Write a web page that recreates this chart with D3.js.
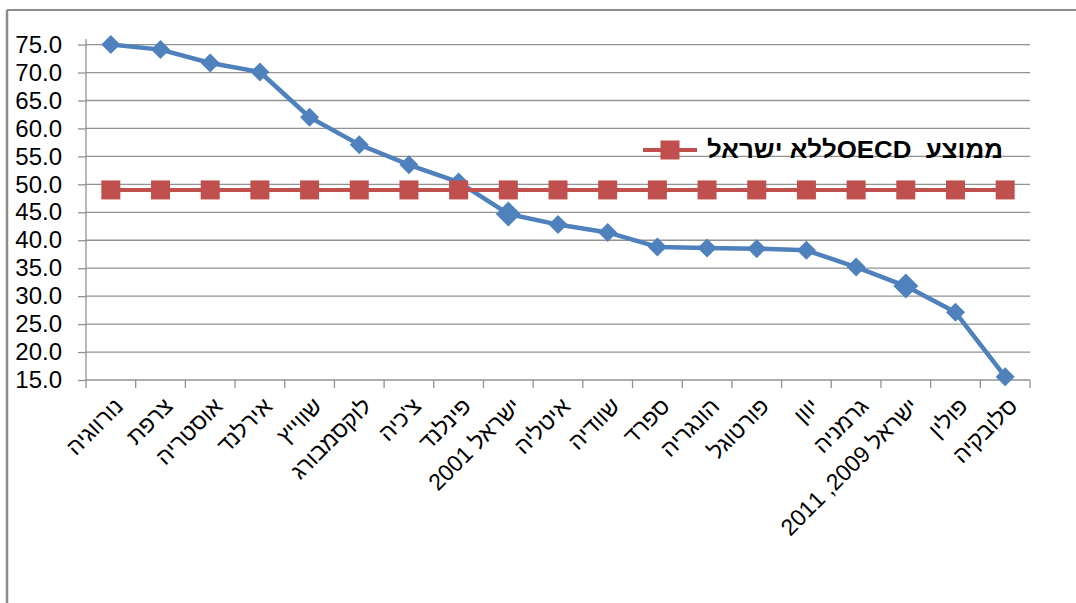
<!DOCTYPE html>
<html>
<head>
<meta charset="utf-8">
<script src="https://cdn.jsdelivr.net/npm/d3@7"></script>
<style>
  html, body { margin: 0; padding: 0; background: #fff; }
  svg { display: block; font-family: "Liberation Sans", Arial, sans-serif; }
</style>
</head>
<body>
<svg id="chart" width="1076" height="603"></svg>
<script>
// ---- data ----
const categories = ["נורווגיה", "צרפת", "אוסטריה", "אירלנד", "שווייץ", "לוקסמבורג", "צ'כיה", "פינלנד", "ישראל 2001", "איטליה", "שוודיה", "ספרד", "הונגריה", "פורטוגל", "יוון", "גרמניה", "ישראל 2009, 2011", "פולין", "סלובקיה"];
const values = [75.0, 74.1, 71.7, 70.1, 62.0, 57.1, 53.5, 50.4, 44.7, 42.8, 41.4, 38.8, 38.6, 38.5, 38.2, 35.2, 31.8, 27.1, 15.6];
const oecdAvg = [49.0, 49.0, 49.0, 49.0, 49.0, 49.0, 49.0, 49.0, 49.0, 49.0, 49.0, 49.0, 49.0, 49.0, 49.0, 49.0, 49.0, 49.0, 49.0];
const highlighted = ["ישראל 2001", "ישראל 2009, 2011"];
const yTicks = [15, 20, 25, 30, 35, 40, 45, 50, 55, 60, 65, 70, 75];
const legendLabel = "ממוצע  OECDללא ישראל";

// ---- layout ----
const svg = d3.select("#chart");
const pLeft = 86, pRight = 1030, pTop = 39, pBottom = 380;
const blue = "#4F81BD", red = "#C0504D", grid = "#929292";

const x = d3.scaleBand().domain(categories).range([pLeft, pRight]).padding(0);
const y = d3.scaleLinear().domain([15, 76]).range([pBottom, pTop]);
const cx = d => x(d) + x.bandwidth() / 2;

// chart border (top & left visible)
svg.append("line").attr("x1", 7).attr("x2", 1076).attr("y1", 10).attr("y2", 10)
  .attr("stroke", "#8C8C8C").attr("stroke-width", 2);
svg.append("line").attr("x1", 7).attr("x2", 7).attr("y1", 10).attr("y2", 603)
  .attr("stroke", "#8C8C8C").attr("stroke-width", 2.5);

// gridlines
svg.append("g").selectAll("line").data(yTicks.filter(t => t > 15)).join("line")
  .attr("x1", pLeft).attr("x2", pRight)
  .attr("y1", d => y(d)).attr("y2", d => y(d))
  .attr("stroke", grid).attr("stroke-width", 1.3);

// y axis
const yAxis = svg.append("g").attr("transform", `translate(${pLeft},0)`)
  .call(d3.axisLeft(y).tickValues(yTicks).tickSize(8).tickPadding(16).tickFormat(d3.format(".1f")));
yAxis.select(".domain").attr("stroke", grid).attr("stroke-width", 1.3).attr("d", `M0,${pTop}V${pBottom}`);
yAxis.selectAll(".tick line").attr("stroke", grid).attr("stroke-width", 1.3);
yAxis.selectAll(".tick text").attr("font-size", 24).attr("fill", "#000")
  .attr("font-family", "'Liberation Sans', Arial, sans-serif");

// x axis
const xg = svg.append("g");
xg.append("line").attr("x1", pLeft).attr("x2", pRight).attr("y1", pBottom).attr("y2", pBottom)
  .attr("stroke", grid).attr("stroke-width", 1.3);
const boundaries = categories.map(c => x(c)).concat([x(categories[categories.length - 1]) + x.bandwidth()]);
xg.selectAll("line.tk").data(boundaries).join("line").attr("class", "tk")
  .attr("x1", d => d).attr("x2", d => d).attr("y1", pBottom).attr("y2", pBottom + 8)
  .attr("stroke", grid).attr("stroke-width", 1.3);
xg.selectAll("text").data(categories).join("text")
  .attr("transform", d => `translate(${cx(d) + 8},${pBottom + 22}) rotate(-45)`)
  .attr("text-anchor", "end")
  .attr("dy", "0.35em")
  .attr("font-size", 23)
  .attr("fill", "#000")
  .text(d => d);

// blue series
const line = d3.line().x((d, i) => cx(categories[i])).y(d => y(d));
svg.append("path").datum(values).attr("d", line)
  .attr("fill", "none").attr("stroke", blue).attr("stroke-width", 4.5).attr("stroke-linejoin", "round");
svg.append("g").selectAll("path").data(values).join("path")
  .attr("transform", (d, i) => `translate(${cx(categories[i])},${y(d)})`)
  .attr("d", (d, i) => {
    const s = highlighted.includes(categories[i]) ? 12.5 : 9.5;
    return `M0,${-s}L${s},0L0,${s}L${-s},0Z`;
  })
  .attr("fill", blue);

// red series
svg.append("path").datum(oecdAvg).attr("d", line)
  .attr("fill", "none").attr("stroke", red).attr("stroke-width", 4);
svg.append("g").selectAll("rect").data(oecdAvg).join("rect")
  .attr("x", (d, i) => cx(categories[i]) - 9.5).attr("y", d => y(d) - 9.5)
  .attr("width", 19).attr("height", 19).attr("fill", red);

// legend
const lg = svg.append("g").attr("transform", "translate(0,150)");
lg.append("line").attr("x1", 643).attr("x2", 697).attr("y1", 0).attr("y2", 0)
  .attr("stroke", red).attr("stroke-width", 4);
lg.append("rect").attr("x", 660.5).attr("y", -9.5).attr("width", 19).attr("height", 19).attr("fill", red);
lg.append("text")
  .attr("x", 1003).attr("y", 0).attr("dy", "0.35em")
  .attr("direction", "rtl").style("direction", "rtl").style("white-space", "pre")
  .attr("text-anchor", "start")
  .attr("font-size", 24).attr("font-weight", "bold").attr("fill", "#000")
  .attr("textLength", 296).attr("lengthAdjust", "spacingAndGlyphs")
  .text(legendLabel);
</script>
</body>
</html>
